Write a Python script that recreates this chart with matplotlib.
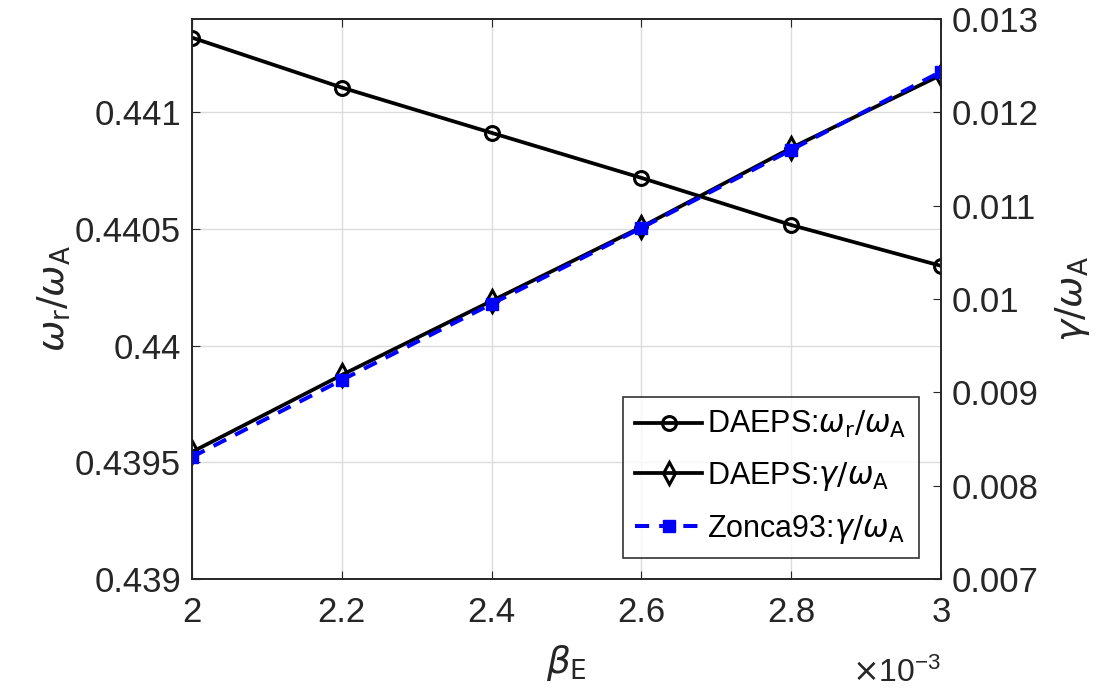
import matplotlib
matplotlib.use("Agg")
import matplotlib.pyplot as plt
from matplotlib.ticker import FuncFormatter, MultipleLocator

plt.rcParams['font.family'] = ['Liberation Sans', 'DejaVu Sans']
plt.rcParams['mathtext.fontset'] = 'dejavusans'

# данные
beta_e = [2.0e-3, 2.2e-3, 2.4e-3, 2.6e-3, 2.8e-3, 3.0e-3]
omega_r = [0.44132, 0.441106, 0.440912, 0.440719, 0.440517, 0.440342]
gamma_daeps = [0.008361, 0.009186, 0.009979, 0.010771, 0.011618, 0.0124]
gamma_zonca = [0.008307, 0.009132, 0.009947, 0.010761, 0.011597, 0.012436]

txt = '#262626'

fig = plt.figure(figsize=(11.12, 7.0), dpi=100)
ax = fig.add_axes([0.1727, 0.1729, 0.8462 - 0.1727, 0.9729 - 0.1729])
ax2 = ax.twinx()

l1, = ax.plot(beta_e, omega_r, color='black', lw=2.7, marker='o', ms=10,
              mfc='none', mew=2.2,
              label=r'DAEPS:$\omega_{\mathrm{r}}/\omega_{\mathrm{A}}$')
l2, = ax2.plot(beta_e, gamma_daeps, color='black', lw=2.7, marker='d', ms=11,
               mfc='none', mew=2.2,
               label=r'DAEPS:$\gamma/\omega_{\mathrm{A}}$')
l3, = ax2.plot(beta_e, gamma_zonca, color='blue', lw=2.9, ls=(0, (3.5, 2.5)),
               marker='s', ms=8, mfc='blue', mec='blue',
               label=r'Zonca93:$\gamma/\omega_{\mathrm{A}}$')

ax.set_xlim(2e-3, 3e-3)
ax.set_ylim(0.439, 0.4414)
ax2.set_ylim(0.007, 0.013)

ax.xaxis.set_major_locator(MultipleLocator(0.2e-3))
ax.xaxis.set_major_formatter(FuncFormatter(lambda v, p: f'{v * 1e3:g}'))
ax.yaxis.set_major_locator(MultipleLocator(0.0005))
ax.yaxis.set_major_formatter(FuncFormatter(lambda v, p: f'{v:g}'))
ax2.yaxis.set_major_locator(MultipleLocator(0.001))
ax2.yaxis.set_major_formatter(FuncFormatter(lambda v, p: f'{v:g}'))

ax.grid(True, color='#dcdcdc', lw=1)
ax.tick_params(axis='x', direction='in', top=True, length=6, labelsize=25,
               colors=txt, pad=12)
ax.tick_params(axis='y', direction='in', right=False, length=6, labelsize=25,
               colors=txt, pad=8)
ax2.tick_params(axis='y', direction='in', length=6, labelsize=25,
                colors=txt, pad=8)
for a in (ax, ax2):
    for s in a.spines.values():
        s.set_color(txt)
        s.set_linewidth(1.2)

ax.set_xlabel(r'$\beta_{\mathrm{E}}$', fontsize=27, color=txt, labelpad=10)
ax.set_ylabel(r'$\omega_{\mathrm{r}}/\omega_{\mathrm{A}}$', fontsize=27,
              color=txt, labelpad=1)
ax2.set_ylabel(r'$\gamma/\omega_{\mathrm{A}}$', fontsize=27, color=txt,
               labelpad=10, rotation=90)
ax.text(1.0, -0.14, r'$\times\mathregular{10^{-3}}$', transform=ax.transAxes,
        ha='right', va='top', fontsize=23, color=txt)

leg = ax2.legend(handles=[l1, l2, l3], loc='lower right',
                 bbox_to_anchor=(0.97, 0.037), fontsize=22,
                 frameon=True, fancybox=False, edgecolor='black',
                 handlelength=2.2, handletextpad=0.15, borderpad=0.4,
                 labelspacing=0.65, borderaxespad=0)
leg.get_frame().set_linewidth(1.2)

fig.savefig('out.png', dpi=100)
